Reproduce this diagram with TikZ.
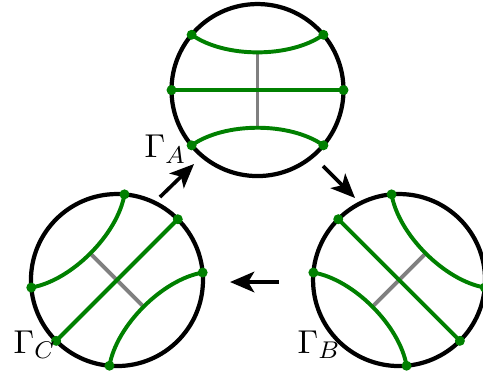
\documentclass[tikz,border=0pt]{standalone}
\usetikzlibrary{arrows.meta}
\begin{document}
\begin{tikzpicture}[
    ball/.style={draw, circle, minimum size=2cm, inner sep=0pt, line width=1.4pt},
    strand/.style={green!50!black, line width=1.3pt},
    rung/.style={gray, line width=1.3pt},
    dot/.style={green!50!black},
    lbl/.style={inner sep=0pt, anchor=base west, font=\fontsize{11pt}{13pt}\selectfont},
    arr/.style={-{Stealth[length=8pt, width=6.8pt, inset=2pt]}, line width=1.2pt}]
  \useasboundingbox (0,0) rectangle (5.616,-4.337);

  % the three balls: same picture, turned by 0, -45 and 45 degrees
  \foreach \name/\x/\y/\rot in {A/2.994/-1.047/0, B/4.640/-3.256/-45, C/1.360/-3.256/45} {
    \begin{scope}[shift={(\x,\y)}, rotate=\rot]
      \node[ball] (\name) at (0,0) {};
      \draw[rung] (0,0.44) -- (0,-0.435);
      \draw[strand] (140:1) .. controls (-0.38,0.37) and (0.38,0.37) .. (40:1);
      \draw[strand] (180:1) -- (0:1);
      \draw[strand] (220:1) .. controls (-0.38,-0.37) and (0.38,-0.37) .. (320:1);
      \foreach \a in {140,40,180,0,220,320}
        \fill[dot] (\a:1) circle (0.058);
    \end{scope}
  }

  % labels
  \node[lbl] (lA) at (1.674,-1.837) {$\Gamma_A$};
  \node[lbl] (lB) at (3.453,-4.105) {$\Gamma_B$};
  \node[lbl] (lC) at (0.151,-4.105) {$\Gamma_C$};

  % moves between the balls
  \coordinate (ab1) at (3.756,-1.930);
  \coordinate (ab2) at (4.128,-2.302);
  \coordinate (bc1) at (3.244,-3.279);
  \coordinate (bc2) at (2.675,-3.279);
  \coordinate (ca1) at (1.860,-2.291);
  \coordinate (ca2) at (2.256,-1.907);
  \draw[arr] (ab1) -- (ab2);
  \draw[arr] (bc1) -- (bc2);
  \draw[arr] (ca1) -- (ca2);
\end{tikzpicture}
\end{document}
